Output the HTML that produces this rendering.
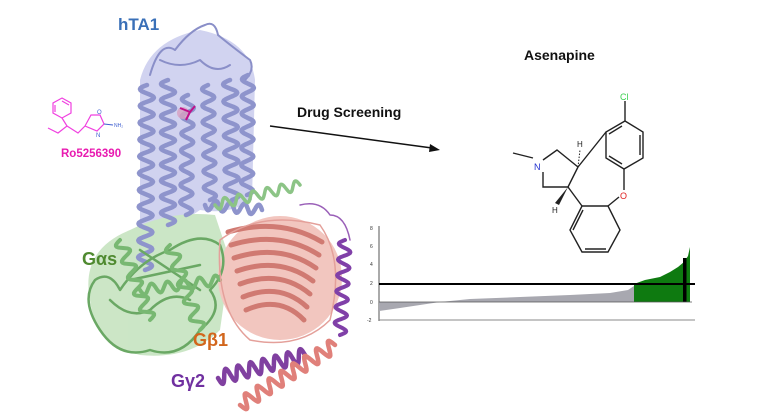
<!DOCTYPE html>
<html><head><meta charset="utf-8"><style>
html,body{margin:0;padding:0;background:#fff;}
svg{display:block;}
text{font-family:"Liberation Sans",Arial,sans-serif;}
</style></head><body>
<svg id="s" width="770" height="420" viewBox="0 0 770 420" xmlns="http://www.w3.org/2000/svg">
<g opacity="0.8">
<path d="M140 80 Q150 40 200 30 Q250 40 255 80 L252 200 Q230 215 200 210 L170 230 L160 275 L140 270 Z" fill="#c5c8ec"/>
<path d="M90 300 Q80 250 130 230 Q170 210 215 215 L230 260 L220 330 Q190 360 140 355 Q95 345 90 300 Z" fill="#bfe0b8"/>
<circle cx="280" cy="278" r="62" fill="#f0b8b0"/>
</g>
<g id="prot" fill="none" stroke-linecap="round" stroke-linejoin="round"></g>
<circle cx="183" cy="113" r="6" fill="#d8a0c0" opacity="0.8"/>
<path d="M180 108 L190 112 L186 120 M190 112 L195 106" stroke="#c0108a" stroke-width="2" fill="none"/>

<text x="118" y="30" font-size="17" font-weight="bold" fill="#3a70b8">hTA1</text>
<text x="61" y="157" font-size="11.5" font-weight="bold" fill="#e81ab0">Ro5256390</text>
<text x="82" y="265" font-size="18" font-weight="bold" fill="#4f8a30">Gαs</text>
<text x="193" y="346" font-size="18" font-weight="bold" fill="#d2661c">Gβ1</text>
<text x="171" y="387" font-size="18" font-weight="bold" fill="#7030a0">Gγ2</text>
<text x="297" y="117" font-size="14" font-weight="bold" fill="#111">Drug Screening</text>
<text x="524" y="60" font-size="14" font-weight="bold" fill="#111">Asenapine</text>

<line x1="270" y1="126" x2="432" y2="148" stroke="#111" stroke-width="1.5"/>
<polygon points="440,150 430,144 429,152" fill="#111"/>

<g stroke="#f040e0" stroke-width="1.2" fill="none">
<polygon points="62,98 71,103 71,113 62,118 53,113 53,103"/>
<path d="M55 105 L55 112 M62 101 L69 105"/>
<path d="M62 118 L67 126 L58 133 L48 128 M67 126 L78 133 L85 126"/>
<path d="M85 126 L91 115 L100 115 L104 124 L97 131 L85 126"/>
</g>
<path d="M104 124 L113 125" stroke="#4060d0" stroke-width="1"/>
<text x="97" y="114" font-size="6" fill="#4060d0">O</text>
<text x="96" y="137" font-size="6" fill="#4060d0">N</text>
<text x="114" y="127" font-size="5" fill="#4060d0">NH₂</text>

<g stroke="#222" stroke-width="1.4" fill="none">
<path d="M625 101 L625 121"/>
<polygon points="625,121 643,132 643,158 624,169 606,158 606,132"/>
<path d="M640 135 L640 155 M609 156 L622 164 M609 134 L622 126"/>
<path d="M624 169 L624 190 M619 197 L608 206"/>
<path d="M606 132 L578 167 M578 167 L557 150 L543 160 M543 172 L543 187 L568 187 L578 167"/>
<path d="M533 158 L513 153"/>
<path d="M568 187 L582 206"/>
<polygon points="582,206 608,206 620,230 608,252 582,252 570,230"/>
<path d="M585 249 L606 249 M573 230 L583 210"/>
</g>
<path d="M568 187 L559 205 L555 203 Z" fill="#222"/>
<path d="M578 167 L580 150" stroke="#222" stroke-width="1" stroke-dasharray="1.5 1.5"/>
<text x="620" y="100" font-size="9" fill="#3ad050">Cl</text>
<text x="534" y="170" font-size="9" fill="#2030d0">N</text>
<text x="620" y="199" font-size="9" fill="#e02020">O</text>
<text x="577" y="147" font-size="8" fill="#222">H</text>
<text x="552" y="213" font-size="8" fill="#222">H</text>

<g font-size="5" fill="#333">
<text x="370" y="230">8</text><text x="370" y="248">6</text><text x="370" y="266">4</text>
<text x="370" y="285">2</text><text x="370" y="304">0</text><text x="367" y="322">-2</text>
</g>
<line x1="379" y1="226" x2="379" y2="321" stroke="#555" stroke-width="1"/>
<line x1="379" y1="320" x2="695" y2="320" stroke="#888" stroke-width="1"/>
<path d="M379 302 L379 311 L400 308 L420 305 L440 302 L470 299 L520 297 L570 295 L610 293 L628 290 L634 286 L634 302 Z" fill="#a8a8b0"/>
<path d="M634 302 L634 284 L645 280 L660 277 L670 272 L678 267 L684 262 L688 256 L690 247 L690 302 Z" fill="#0e7a10"/>
<rect x="683" y="258" width="3.5" height="44" fill="#000"/>
<line x1="379" y1="302" x2="692" y2="302" stroke="#555" stroke-width="0.7"/>
<line x1="379" y1="284" x2="695" y2="284" stroke="#000" stroke-width="2"/>
</svg>
<script>
(function(){
var g=document.getElementById('prot');var ns='http://www.w3.org/2000/svg';
function coil(x1,y1,x2,y2,turns,amp,col,w){
 var dx=x2-x1,dy=y2-y1,L=Math.hypot(dx,dy),nx=-dy/L,ny=dx/L,d='';
 var N=turns*16;for(var i=0;i<=N;i++){var t=i/N,a=Math.sin(t*turns*2*Math.PI)*amp;
 d+=(i?'L':'M')+(x1+dx*t+nx*a).toFixed(1)+' '+(y1+dy*t+ny*a).toFixed(1);}
 var p=document.createElementNS(ns,'path');p.setAttribute('d',d);p.setAttribute('stroke',col);p.setAttribute('stroke-width',w);g.appendChild(p);}
function line(d,col,w){var p=document.createElementNS(ns,'path');p.setAttribute('d',d);p.setAttribute('stroke',col);p.setAttribute('stroke-width',w);g.appendChild(p);}
var lav='#8e94cc';
line('M150 75 Q160 40 175 50 Q190 30 205 25 Q215 20 218 35 Q230 45 250 60 Q255 70 245 80 M160 60 Q180 70 200 60 Q215 75 230 65','#8a8fc8',2);
coil(147,85,145,270,11,7,lav,4.5);
coil(168,80,168,225,9,7,lav,4.5);
coil(188,95,186,215,7,6,lav,4.5);
coil(208,85,210,200,7,6,lav,4.5);
coil(230,80,232,200,7,7,lav,4.5);
coil(248,75,247,195,7,6,lav,4.5);
coil(205,205,262,210,4,5,lav,4.5);
coil(215,205,300,185,6,5,'#8cc486',3.5);
var gr='#78b872';
line('M100 330 Q80 300 95 280 Q110 270 120 290 Q140 260 170 250 Q200 230 220 245 Q230 270 210 290 Q225 310 200 330 Q180 360 150 350 Q120 360 100 330 M110 300 Q130 320 150 310 Q170 290 190 300 M140 250 L200 290 M130 280 L200 265','#6aa864',2.5);
coil(120,240,150,320,5,6,gr,4);
coil(170,245,200,330,5,6,gr,4);
coil(140,290,220,280,5,5,gr,4);
for(var k=0;k<7;k++){line('M'+(228+k*3)+' '+(232+k*13)+' Q280 '+(217+k*13)+' '+(322-k*3)+' '+(242+k*13),'#d07a72',5);}
line('M220 240 Q260 210 320 225 Q345 260 330 320 Q300 350 250 340 Q215 310 220 240','#e4a09a',1.5);
coil(345,240,340,335,6,6,'#8040a8',4);
coil(218,378,305,355,7,7,'#8040a0',4.5);
coil(240,405,335,345,8,7,'#e0807a',4.5);
line('M300 205 Q320 200 330 215 Q345 215 350 240','#9a60b8',1.5);
})();
</script>
</body></html>
